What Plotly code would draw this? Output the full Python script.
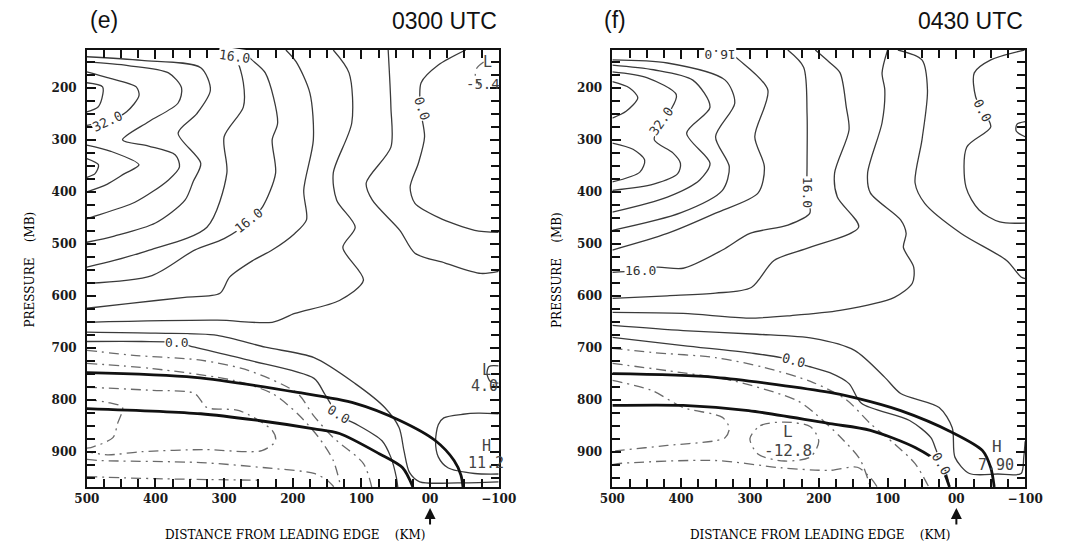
import plotly.graph_objects as go

# ---------------- axes values ----------------
x_ticks = [500, 400, 300, 200, 100, 0, -100]
x_ticktext = ["500", "400", "300", "200", "100", "00", "\u2212100"]
y_ticks = [200, 300, 400, 500, 600, 700, 800, 900]
x_range = [500, -100]
y_range = [968, 127]

# ---------------- panel (e) 0300 UTC : contour lines (distance km, pressure mb) ----------------
e_c36a = [(500,190),(477,198),(478,220),(484,237),(500,246)]
e_c36b = [(500,336),(483,348),(488,365),(500,372)]
e_c32a = [(500,169),(470,180),(428,198),(424,215),(442,246),(465,262),(500,272)]
e_c32b = [(500,310),(465,322),(424,348),(445,365),(470,385),(500,400)]
e_c28 = [(500,150),(440,157),(381,171),(362,200),(367,229),(410,265),(448,300),(410,312),(371,329),(365,352),(381,377),(430,420),(494,449),(500,452)]
e_c24 = [(500,140),(420,147),(334,161),(320,204),(340,250),(367,287),(334,345),(345,380),(357,416),(400,460),(460,485),(500,497)]
e_c20 = [(300,127),(282,146),(272,190),(272,237),(300,294),(296,364),(325,468),(409,512),(460,532),(500,545)]
e_c16 = [(268,127),(264,140),(240,171),(222,267),(230,300),(225,364),(244,429),(264,458),(300,490),(343,512),(405,561),(500,576)]
e_c12 = [(210,127),(195,150),(175,210),(170,300),(184,397),(180,454),(197,480),(230,512),(258,532),(292,564),(306,595),(357,603),(440,615),(500,624)]
e_c8 = [(141,127),(118,171),(114,267),(141,364),(136,416),(109,468),(127,507),(97,570),(132,609),(197,634),(230,651),(310,647),(500,651)]
e_c4u = [(61,127),(57,237),(57,314),(93,383),(84,416),(44,474),(22,518),(-22,537),(-74,557),(-100,553)]
e_c0u = [(-52,127),(-12,156),(13,190),(14,240),(8,294),(17,345),(29,391),(22,422),(-12,449),(-65,474),(-100,478)]
e_c4l = [(500,670),(400,672),(310,676),(240,699),(169,719),(109,769),(66,815),(45,854),(38,898),(30,940),(15,958),(-40,960),(-100,958)]
e_c0l = [(500,688),(420,688),(369,690),(343,699),(264,724),(169,759),(153,790),(133,830),(109,846),(70,879),(57,911),(49,950),(47,968)]
e_c8h = [(-100,827),(-70,826),(-48,828),(-20,835),(-12,848),(-8,880),(-12,910),(-26,931),(-65,942),(-100,943)]
e_c4small = [(-100,735),(-86,736),(-83,750),(-88,765),(-100,768)]
e_thick1 = [(500,748),(343,757),(193,786),(109,807),(44,840),(-8,879),(-35,917),(-45,945),(-48,968)]
e_thick2 = [(500,817),(334,827),(250,840),(169,856),(132,865),(74,904),(40,931),(25,968)]
e_neg1 = [(500,705),(428,715),(334,724),(264,744),(193,788),(170,830),(141,873),(97,923),(85,968)]
e_neg2 = [(500,730),(405,740),(286,763),(230,788),(193,827),(162,873),(141,917),(130,968)]
e_neg3 = [(500,776),(405,782),(343,788),(325,815),(278,821),(230,859),(225,879),(245,898),(330,896),(420,900),(470,906),(500,900)]
e_neg4 = [(500,800),(470,805),(448,815),(455,845),(462,873),(494,892),(500,893)]
e_neg5 = [(500,915),(484,917),(334,921),(240,931),(169,942),(150,955),(140,968)]
e_neg6 = [(500,948),(400,952),(250,955)]
e_negL = [(-78,150),(-68,162),(-66,178),(-72,195)]

# ---------------- panel (f) 0430 UTC ----------------
f_c36a = [(500,188),(475,200),(463,219),(480,245),(500,258)]
f_c36b = [(500,306),(470,318),(453,339),(460,362),(500,381)]
f_c32 = [(500,169),(450,180),(407,213),(415,242),(429,267),(439,300),(412,325),(401,345),(405,365),(440,385),(500,397)]
f_c28 = [(500,156),(440,165),(383,185),(358,237),(392,287),(358,345),(373,377),(420,410),(500,439)]
f_c24 = [(500,146),(420,152),(336,185),(322,229),(350,294),(330,352),(340,397),(400,440),(500,474)]
f_c20 = [(335,127),(316,146),(274,204),(293,294),(279,352),(288,402),(350,441),(420,480),(500,512)]
f_c16 = [(245,127),(222,160),(217,250),(217,345),(217,402),(213,441),(245,464),(300,480),(340,512),(397,547),(435,545),(470,552),(500,555)]
f_c12 = [(205,127),(185,150),(169,171),(160,237),(156,281),(177,364),(173,410),(142,468),(213,507),(265,532),(298,584),(350,595),(420,600),(500,605)]
f_c8 = [(100,127),(108,171),(104,204),(108,267),(129,364),(125,402),(81,454),(73,480),(77,507),(62,545),(64,576),(90,603),(169,628),(240,638),(302,643),(397,634),(500,632)]
f_c4u = [(85,127),(50,146),(42,204),(50,300),(60,383),(46,422),(-7,480),(-73,532),(-94,564),(-100,567)]
f_c0u = [(-99,127),(-50,146),(-26,171),(-28,217),(-38,243),(-50,275),(-15,314),(-14,391),(-33,435),(-63,458),(-100,460)]
f_csmall = [(-100,265),(-88,270),(-87,283),(-100,294)]
f_c4l = [(500,657),(397,667),(290,674),(208,682),(148,705),(104,757),(81,788),(25,815),(6,854),(2,911),(-19,942),(-60,943),(-94,942),(-98,910),(-100,880)]
f_c0l = [(500,680),(397,696),(300,710),(255,719),(217,735),(184,748),(156,769),(138,807),(68,840),(37,873),(30,895),(22,922),(14,945),(10,968)]
f_thick1 = [(500,750),(350,757),(184,786),(148,796),(81,821),(6,863),(-38,898),(-50,931),(-55,968)]
f_thick2 = [(500,811),(397,811),(302,821),(184,846),(125,859),(60,892),(25,923),(10,968)]
f_neg1 = [(500,701),(443,709),(350,719),(279,738),(208,767),(160,800),(125,846),(90,885),(60,923),(40,968)]
f_neg2 = [(500,730),(421,744),(326,763),(231,802),(205,827),(170,870),(140,915),(125,968)]
f_neg3 = [(500,763),(443,782),(397,815),(340,834),(330,855),(336,873),(350,879),(420,888),(492,898),(500,899)]
f_negL = [(300,875),(285,850),(250,843),(212,852),(200,880),(212,910),(250,918),(288,905),(300,875)]
f_neg4 = [(500,925),(492,923),(350,917),(255,931),(184,936),(144,930),(125,950),(115,968)]

# contour labels: (km, mb, text, angle)
e_labels = [(470,265,"32.0",-25),(285,140,"16.0",8),(264,455,"16.0",-38),(369,690,"0.0",0),
            (133,828,"0.0",32),(12,240,"0.0",72)]
f_labels = [(429,265,"32.0",-55),(343,136,"16.0",180),(217,400,"16.0",90),(459,551,"16.0",0),
            (236,724,"0.0",15),(22,922,"0.0",60),(-38,243,"0.0",62)]
# extremum labels: (km, mb, text, size)
e_marks = [(-84,150,"L",15),(-77,193,"-5.4",14),(-82,742,"L",15),(-80,773,"4.0",15),
           (-82,890,"H",15),(-82,922,"11.2",15)]
f_marks = [(-59,890,"H",16),(-58,926,"7.90",15),(245,862,"L",16),(245,898,"-12.8",16)]

panels = {
    "e": dict(xa="x", ya="y",
              solid=[e_c36a, e_c36b, e_c32a, e_c32b, e_c28, e_c24, e_c20, e_c16, e_c12, e_c8,
                     e_c4u, e_c0u, e_c4l, e_c0l, e_c8h, e_c4small],
              thick=[e_thick1, e_thick2],
              neg=[e_neg1, e_neg2, e_neg3, e_neg4, e_neg5, e_neg6, e_negL],
              labels=e_labels, marks=e_marks),
    "f": dict(xa="x2", ya="y2",
              solid=[f_c36a, f_c36b, f_c32, f_c28, f_c24, f_c20, f_c16, f_c12, f_c8,
                     f_c4u, f_c0u, f_csmall, f_c4l, f_c0l],
              thick=[f_thick1, f_thick2],
              neg=[f_neg1, f_neg2, f_neg3, f_negL, f_neg4],
              labels=f_labels, marks=f_marks),
}

fig = go.Figure()
annotations = []
MONO = "DejaVu Sans Mono"
SERIF = "DejaVu Serif"

for key, p in panels.items():
    for pts in p["neg"]:
        fig.add_trace(go.Scatter(x=[a for a, b in pts], y=[b for a, b in pts], mode="lines",
                                 line=dict(color="#6a6a6a", width=1.3, dash="10px,5px,2px,5px",
                                           shape="spline", smoothing=0.8),
                                 xaxis=p["xa"], yaxis=p["ya"], hoverinfo="skip", showlegend=False))
    for pts in p["solid"]:
        fig.add_trace(go.Scatter(x=[a for a, b in pts], y=[b for a, b in pts], mode="lines",
                                 line=dict(color="#3a3a3a", width=1.3, shape="spline", smoothing=0.8),
                                 xaxis=p["xa"], yaxis=p["ya"], hoverinfo="skip", showlegend=False))
    for pts in p["thick"]:
        fig.add_trace(go.Scatter(x=[a for a, b in pts], y=[b for a, b in pts], mode="lines",
                                 line=dict(color="#111111", width=2.8, shape="spline", smoothing=0.8),
                                 xaxis=p["xa"], yaxis=p["ya"], hoverinfo="skip", showlegend=False))
    for xk, ym, t, ang in p["labels"]:
        annotations.append(dict(x=xk, y=ym, xref=p["xa"], yref=p["ya"], text=t, showarrow=False,
                                textangle=ang, bgcolor="white", borderpad=0,
                                xanchor="center", yanchor="middle",
                                font=dict(family=MONO, size=13, color="#333")))
    for xk, ym, t, s in p["marks"]:
        annotations.append(dict(x=xk, y=ym, xref=p["xa"], yref=p["ya"], text=t, showarrow=False,
                                xanchor="center", yanchor="middle",
                                font=dict(family=MONO, size=s, color="#444")))
    # arrow under the leading edge (00)
    annotations.append(dict(x=0, y=1 - 508 / 551, xref=p["xa"], yref="paper", text="",
                            showarrow=True, ax=0, ay=18, arrowhead=2, arrowsize=1.1,
                            arrowwidth=2, arrowcolor="#111"))

W, H = 1083, 551
left_dom = [76 / W, 500 / W]
right_dom = [617 / W, 1042 / W]
y_dom = [1 - 487 / H, 1 - 50 / H]

tfont = dict(family=SERIF, size=12, color="#1a1a1a", weight="bold")
tick_style = dict(ticks="inside", ticklen=9, tickwidth=1.6, tickcolor="#111",
                  minor=dict(tickmode="linear", tick0=0, dtick=25, ticks="inside", ticklen=8,
                             tickwidth=1.5, tickcolor="#111", showgrid=False),
                  showgrid=False, zeroline=False,
                  showline=True, linecolor="#111", linewidth=1.6, mirror="allticks", tickfont=tfont)

common_x = dict(tick_style, range=x_range, tickmode="array", tickvals=x_ticks, ticktext=x_ticktext)
common_y = dict(tick_style, range=y_range, tickmode="array", tickvals=y_ticks, domain=y_dom,
                ticklabelstandoff=6)

fig.update_layout(
    width=W, height=H, margin=dict(l=0, r=0, t=0, b=0),
    paper_bgcolor="white", plot_bgcolor="white", showlegend=False,
    xaxis=dict(common_x, domain=left_dom, anchor="y"),
    yaxis=dict(common_y, anchor="x"),
    xaxis2=dict(common_x, domain=right_dom, anchor="y2"),
    yaxis2=dict(common_y, anchor="x2"),
)

# headers and axis titles
for cx, tag, right_x, utc in [(94, "(e)", 500, "0300 UTC"), (620, "(f)", 1042, "0430 UTC")]:
    annotations.append(dict(x=cx / W, y=1 - 20 / H, xref="paper", yref="paper", text=tag,
                            xanchor="center", yanchor="middle", showarrow=False,
                            font=dict(family="Liberation Sans", size=23, color="#111")))
    annotations.append(dict(x=right_x / W, y=1 - 21 / H, xref="paper", yref="paper", text=utc,
                            xanchor="right", yanchor="middle", showarrow=False,
                            font=dict(family="Liberation Sans", size=23, color="#111")))
for cx in [290, 831]:
    annotations.append(dict(x=cx / W, y=1 - 535 / H, xref="paper", yref="paper",
                            text="DISTANCE FROM LEADING EDGE &nbsp;&nbsp;&nbsp;(KM)", showarrow=False,
                            xanchor="center", yanchor="middle",
                            font=dict(family=SERIF, size=12, color="#000")))
for cx in [17, 560]:
    annotations.append(dict(x=cx / W, y=1 - 270 / H, xref="paper", yref="paper",
                            text="PRESSURE &nbsp;&nbsp;&nbsp;(MB)", showarrow=False, textangle=-90,
                            xanchor="center", yanchor="middle",
                            font=dict(family=SERIF, size=12, color="#000")))

fig.update_layout(annotations=annotations)
fig.write_html("out.html")
